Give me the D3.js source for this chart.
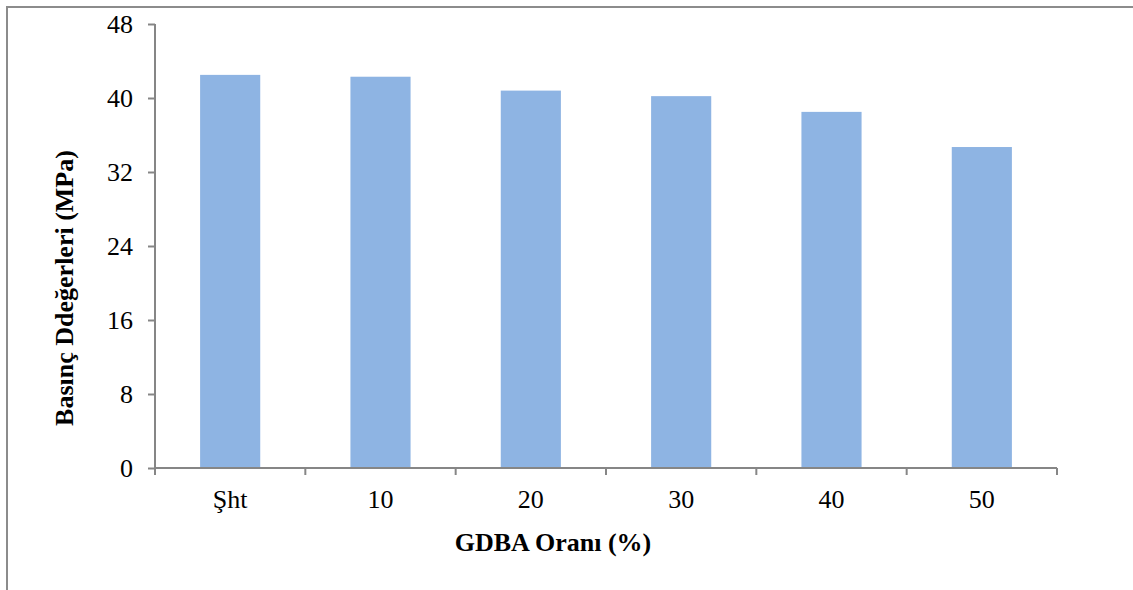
<!DOCTYPE html>
<html><head><meta charset="utf-8">
<script src="https://cdn.jsdelivr.net/npm/d3@7"></script>
<style>body{margin:0;background:#fff}svg{display:block}
svg text{font-family:"Liberation Serif","DejaVu Serif","Times New Roman",serif !important}</style>
</head><body>
<script>
const categories = ["Şht", "10", "20", "30", "40", "50"];
const values = [42.5, 42.3, 40.8, 40.2, 38.5, 34.7];
const yTicks = [0, 8, 16, 24, 32, 40, 48];
const yTitle = "Basınç Ddeğerleri (MPa)";
const xTitle = "GDBA Oranı (%)";

const W = 1133, H = 590;
const svg = d3.select("body").append("svg").attr("width", W).attr("height", H);
const axisColor = "#868686";

// outer frame
svg.append("rect").attr("x", 7).attr("y", 7).attr("width", W + 20).attr("height", H + 20)
  .attr("fill", "none").attr("stroke", "#8c8c8c").attr("stroke-width", 2);

const x0 = 155, x1 = 1057, y0 = 468, y1 = 24;
const x = d3.scaleBand().domain(categories).range([x0, x1]).paddingInner(0.6).paddingOuter(0.3);
const y = d3.scaleLinear().domain([0, 48]).range([y0, y1]);

svg.selectAll("rect.bar").data(values).join("rect").attr("class", "bar")
  .attr("x", (d, i) => x(categories[i])).attr("width", x.bandwidth())
  .attr("y", d => y(d)).attr("height", d => y0 - y(d)).attr("fill", "#8eb4e3");

// y axis
const yAxis = svg.append("g").attr("transform", `translate(${x0},0)`)
  .call(d3.axisLeft(y).tickValues(yTicks).tickSize(7).tickPadding(15));
yAxis.select(".domain").attr("stroke", axisColor).attr("stroke-width", 2).attr("d", `M0,${y1}V${y0}`);
yAxis.selectAll(".tick line").attr("stroke", axisColor).attr("stroke-width", 2);
yAxis.selectAll(".tick text").attr("font-size", 26).attr("fill", "#000").attr("dy", "0.34em");

// x axis
const step = (x1 - x0) / categories.length;
const xg = svg.append("g").attr("transform", `translate(0,${y0})`);
xg.append("line").attr("x1", x0).attr("x2", x1).attr("stroke", axisColor).attr("stroke-width", 2);
xg.selectAll("line.tk").data(d3.range(categories.length + 1)).join("line").attr("class", "tk")
  .attr("x1", i => x0 + i * step).attr("x2", i => x0 + i * step).attr("y1", 0).attr("y2", 7)
  .attr("stroke", axisColor).attr("stroke-width", 2);
xg.selectAll("text").data(categories).join("text")
  .attr("x", d => x(d) + x.bandwidth() / 2).attr("y", 40)
  .attr("text-anchor", "middle").attr("font-size", 26).text(d => d);

svg.append("text").attr("x", 553).attr("y", 551).attr("text-anchor", "middle")
  .attr("font-size", 26).attr("font-weight", "bold").text(xTitle);
svg.append("text").attr("transform", "translate(73,288) rotate(-90)").attr("text-anchor", "middle")
  .attr("font-size", 26).attr("font-weight", "bold").text(yTitle);
</script>
</body></html>
